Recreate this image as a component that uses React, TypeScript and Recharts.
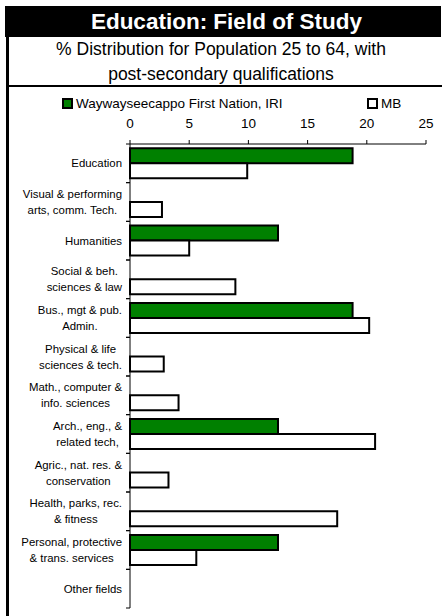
import React from 'react';
import { BarChart, Bar, XAxis, YAxis, Legend } from 'recharts';

const categories = [
  'Education',
  'Visual & performing\narts, comm. Tech.',
  'Humanities',
  'Social & beh.\nsciences & law',
  'Bus., mgt & pub.\nAdmin.',
  'Physical & life\nsciences & tech.',
  'Math., computer &\ninfo. sciences',
  'Arch., eng., &\nrelated tech,',
  'Agric., nat. res. &\nconservation',
  'Health, parks, rec.\n& fitness',
  'Personal, protective\n& trans. services',
  'Other fields',
];

const firstNation = [18.8, 0, 12.5, 0, 18.8, 0, 0, 12.5, 0, 0, 12.5, 0];
const manitoba = [9.9, 2.7, 5.0, 8.9, 20.2, 2.85, 4.1, 20.7, 3.25, 17.5, 5.6, 0];

const xTicks = [0, 5, 10, 15, 20, 25];

const seriesNames = ['Waywayseecappo First Nation, IRI', 'MB'];

const data = categories.map((name, i) => ({
  name,
  fn: firstNation[i],
  mb: manitoba[i],
}));

const FONT = '"Liberation Sans", Arial, sans-serif';
const LABEL_SIZE = 11.4;

let ctx: CanvasRenderingContext2D | null = null;
const measure = (s: string) => {
  if (!ctx && typeof document !== 'undefined') {
    ctx = document.createElement('canvas').getContext('2d');
  }
  if (!ctx) return s.length * LABEL_SIZE * 0.5;
  ctx.font = `${LABEL_SIZE}px "Liberation Sans"`;
  return ctx.measureText(s).width;
};

// Excel style: block right aligned, lines centred inside it, ticks on band edges
const CategoryTick = (props: any) => {
  const { x, y, payload } = props;
  const lines = String(payload.value).split('\n');
  const half = payload.offset ?? 19.3;
  const blockW = Math.max(...lines.map(measure));
  const cx = x - blockW / 2;
  const lineH = 16;
  const y0 = y - ((lines.length - 1) * lineH) / 2;
  return (
    <g>
      <line x1={x + 4} x2={x + 8} y1={y - half} y2={y - half} stroke="#000" />
      <line x1={x + 4} x2={x + 8} y1={y + half} y2={y + half} stroke="#000" />
      {lines.map((l, i) => (
        <text
          key={i}
          x={cx}
          y={y0 + i * lineH}
          dy="0.355em"
          textAnchor="middle"
          fontSize={LABEL_SIZE}
          fontFamily={FONT}
          fill="#000"
        >
          {l}
        </text>
      ))}
    </g>
  );
};

const legendLeft = [62, 367];

const LegendContent = ({ payload }: any) => (
  <div style={{ position: 'relative', fontFamily: FONT, fontSize: 13.5, color: '#000' }}>
    {(payload || []).map((entry: any) => {
      const idx = Math.max(0, seriesNames.indexOf(entry.value));
      return (
        <div
          key={entry.value}
          style={{ position: 'absolute', left: legendLeft[idx], top: 0, display: 'flex', alignItems: 'center', whiteSpace: 'nowrap' }}
        >
          <svg width={12} height={12} style={{ marginRight: 2 }}>
            <rect x={1} y={1} width={9} height={9} fill={entry.payload?.fill ?? entry.color} stroke="#000" strokeWidth={2} />
          </svg>
          <span>{entry.value}</span>
        </div>
      );
    })}
  </div>
);

export default function App() {
  return (
    <div style={{ position: 'absolute', left: 0, top: 0, width: 442, height: 616, background: '#fff', fontFamily: FONT }}>
      <div
        style={{
          position: 'absolute', left: 5, top: 6, width: 436, height: 31, background: '#000', color: '#fff',
          fontWeight: 'bold', fontSize: 22.5, lineHeight: '32px', textAlign: 'center', paddingLeft: 7, boxSizing: 'border-box',
        }}
      >
        Education: Field of Study
      </div>
      <div
        style={{
          position: 'absolute', left: 5, top: 37, width: 432, fontSize: 17.5, lineHeight: '25px', textAlign: 'center', color: '#000',
        }}
      >
        % Distribution for Population 25 to 64, with
        <br />
        post-secondary qualifications
      </div>
      <div style={{ position: 'absolute', left: 6, top: 37, width: 3, height: 579, background: '#000' }} />
      <div style={{ position: 'absolute', left: 6, top: 85, width: 436, height: 2, background: '#000' }} />
      <div style={{ position: 'absolute', left: 0, top: 0 }}>
        <BarChart
          width={442}
          height={616}
          data={data}
          layout="vertical"
          margin={{ top: 114, right: 16, bottom: 8, left: 0 }}
          barCategoryGap="11%"
          barGap={0}
        >
          <XAxis
            type="number"
            orientation="top"
            domain={[0, 25]}
            ticks={xTicks}
            interval={0}
            height={30}
            tickSize={4}
            tickMargin={12}
            stroke="#000"
            tick={{ fill: '#000', fontSize: 13.5, fontFamily: FONT }}
          />
          <YAxis
            type="category"
            dataKey="name"
            width={130}
            interval={0}
            tickSize={4}
            tickMargin={4}
            tickLine={false}
            stroke="#000"
            tick={<CategoryTick />}
          />
          <Legend
            verticalAlign="top"
            itemSorter="dataKey"
            content={<LegendContent />}
            wrapperStyle={{ position: 'absolute', left: 0, top: 96, width: 442, height: 0 }}
          />
          <Bar dataKey="fn" name={seriesNames[0]} fill="#008000" stroke="#000" strokeWidth={2} isAnimationActive={false} />
          <Bar dataKey="mb" name={seriesNames[1]} fill="#ffffff" stroke="#000" strokeWidth={2} isAnimationActive={false} />
        </BarChart>
      </div>
    </div>
  );
}
